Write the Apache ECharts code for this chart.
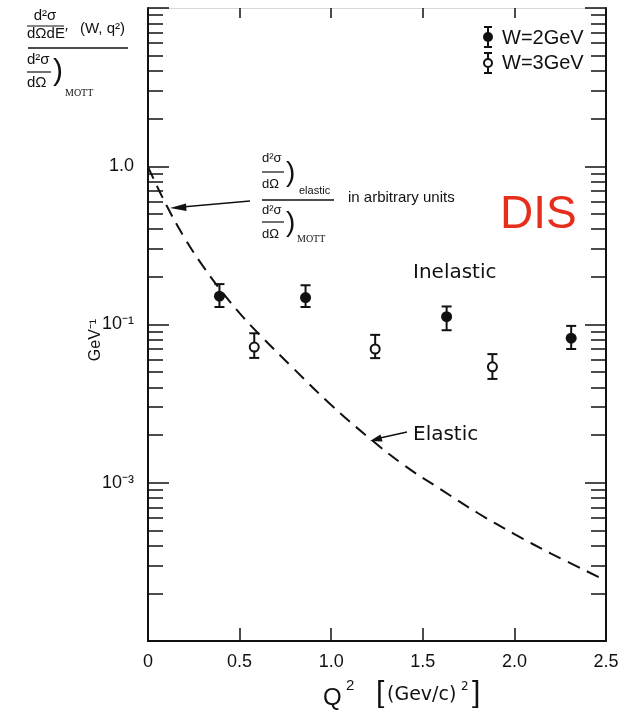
<!DOCTYPE html>
<html><head><meta charset="utf-8">
<script src="https://cdn.jsdelivr.net/npm/echarts@6/dist/echarts.min.js"></script>
<style>html,body{margin:0;padding:0;background:#fff}#c{width:637px;height:717px}</style>
</head><body><div id="c"></div>
<script>
// ---- data ----
const xTicks = [0, 0.5, 1.0, 1.5, 2.0, 2.5];
const yTickLabels = {"0": "1.0", "-1": "10\u207B\u00B9", "-2": "10\u207B\u00B3"};
// W = 2 GeV (filled)
const w2Q2 = [0.39, 0.86, 1.63, 2.31];
const w2Val = [0.151, 0.148, 0.112, 0.082];
const w2Lo = [0.129, 0.129, 0.092, 0.070];
const w2Hi = [0.180, 0.177, 0.130, 0.098];
// W = 3 GeV (open)
const w3Q2 = [0.58, 1.24, 1.88];
const w3Val = [0.072, 0.070, 0.054];
const w3Lo = [0.0615, 0.0613, 0.0453];
const w3Hi = [0.088, 0.086, 0.065];
// elastic curve (arbitrary units)
const elQ2 = [0, 0.1, 0.2, 0.3, 0.4, 0.5, 0.6, 0.8, 1.0, 1.2, 1.4, 1.6, 1.8, 2.0, 2.2, 2.5];
const elVal = [0.989, 0.569, 0.352, 0.234, 0.163, 0.118, 0.0884, 0.0519, 0.0310, 0.0195, 0.01285, 0.00905, 0.00644, 0.00474, 0.00357, 0.00241];

const minorVals = [];
for (let d = -3; d <= 0; d++) for (let k = 2; k <= 9; k++) minorVals.push(+(k * Math.pow(10, d)).toPrecision(3));

const FONT = 'Liberation Sans';
const FONT2 = 'DejaVu Sans';
const INK = '#111';

const chart = echarts.init(document.getElementById('c'), null, {renderer: 'canvas'});

function errRender(lo, hi, xs) {
  return function (params, api) {
    const i = params.dataIndex;
    const a = api.coord([xs[i], lo[i]]);
    const b = api.coord([xs[i], hi[i]]);
    const w = 5;
    const st = {stroke: INK, lineWidth: 2};
    return {type: 'group', children: [
      {type: 'line', shape: {x1: a[0], y1: a[1], x2: b[0], y2: b[1]}, style: st},
      {type: 'line', shape: {x1: a[0] - w, y1: a[1], x2: a[0] + w, y2: a[1]}, style: st},
      {type: 'line', shape: {x1: b[0] - w, y1: b[1], x2: b[0] + w, y2: b[1]}, style: st}
    ]};
  };
}

const yBase = {type: 'log', logBase: 10, min: 0.001, max: 10, splitLine: {show: false}};

function txt(x, y, s, size, extra) {
  return {type: 'text', x: x, y: y, style: Object.assign({text: s, fontFamily: FONT, fontSize: size, fill: INK, textVerticalAlign: 'middle'}, extra || {})};
}
function ln(x1, y1, x2, y2, w) {
  return {type: 'line', shape: {x1: x1, y1: y1, x2: x2, y2: y2}, style: {stroke: INK, lineWidth: w || 1.3}};
}

const graphics = [
  // top-left y-axis title fraction
  txt(45, 16, 'd\u00B2\u03C3', 15, {align: 'center'}),
  ln(27, 26, 64, 26, 1.2),
  txt(27, 34, 'd\u03A9dE\u2032', 15),
  txt(80, 29, '(W, q\u00B2)', 15),
  ln(28, 48, 128, 48, 1.5),
  txt(27, 60, 'd\u00B2\u03C3', 15),
  ln(27, 72, 51, 72, 1.2),
  txt(27, 83, 'd\u03A9', 15),
  txt(53, 72, ')', 30, {fontWeight: 'lighter'}),
  txt(65, 93, 'MOTT', 10, {fontFamily: 'Liberation Serif'}),
  // GeV^-1
  {type: 'text', x: 96, y: 340, rotation: Math.PI / 2, style: {text: 'GeV\u207B\u00B9', fontFamily: FONT, fontSize: 16, fill: INK, align: 'center', verticalAlign: 'middle'}},
  // x axis title
  txt(323, 698, 'Q', 24),
  txt(346, 686, '2', 15),
  txt(376, 694, '[', 30, {fontWeight: 'lighter'}),
  txt(387, 695, '(Gev/c)', 19, {fontFamily: FONT2}),
  txt(461, 687, '2', 12, {fontFamily: FONT2}),
  txt(472, 694, ']', 30, {fontWeight: 'lighter'}),
  // middle annotation
  txt(262, 158, 'd\u00B2\u03C3', 13),
  ln(262, 172, 284, 172, 1.2),
  txt(262, 184, 'd\u03A9', 13),
  txt(286, 173, ')', 28, {fontWeight: 'lighter'}),
  txt(299, 191, 'elastic', 11),
  ln(262, 200, 334, 200, 1.3),
  txt(262, 210, 'd\u00B2\u03C3', 13),
  ln(262, 222, 284, 222, 1.2),
  txt(262, 234, 'd\u03A9', 13),
  txt(286, 223, ')', 28, {fontWeight: 'lighter'}),
  txt(297, 239, 'MOTT', 10, {fontFamily: 'Liberation Serif'}),
  txt(348, 198, 'in arbitrary units', 15),
  ln(250, 201, 182, 207, 1.3),
  {type: 'polygon', shape: {points: [[170, 208], [186, 203.5], [186.5, 211]]}, style: {fill: INK}},
  // Inelastic / Elastic
  txt(413, 273, 'Inelastic', 20, {fontFamily: FONT2}),
  txt(413, 435, 'Elastic', 20, {fontFamily: FONT2}),
  ln(407, 432, 380, 438, 1.5),
  {type: 'polygon', shape: {points: [[370, 441], [382.5, 441.6], [380.5, 434.6]]}, style: {fill: INK}},
  // DIS
  {type: 'text', x: 500, y: 215, style: {text: 'DIS', fontFamily: FONT, fontSize: 46, fill: '#e62e1c', verticalAlign: 'middle'}},
  // legend
  ln(488, 27, 488, 47, 2), ln(484, 27, 492, 27, 2), ln(484, 47, 492, 47, 2),
  {type: 'circle', shape: {cx: 488, cy: 37, r: 5}, style: {fill: INK}},
  txt(502, 38, 'W=2GeV', 20),
  ln(488, 53, 488, 73, 2), ln(484, 53, 492, 53, 2), ln(484, 73, 492, 73, 2),
  {type: 'circle', shape: {cx: 488, cy: 63, r: 4}, style: {fill: '#fff', stroke: INK, lineWidth: 2}},
  txt(502, 63, 'W=3GeV', 20)
];

chart.setOption({
  animation: false,
  backgroundColor: '#fff',
  grid: {left: 148, right: 31, top: 8, bottom: 76},
  xAxis: [
    {type: 'value', min: 0, max: 2.5, interval: 0.5, position: 'bottom',
     axisLine: {lineStyle: {color: INK, width: 2}},
     axisTick: {inside: true, length: 13, lineStyle: {color: INK, width: 1.5}},
     axisLabel: {margin: 12, fontFamily: FONT, fontSize: 18, color: INK,
       formatter: v => v === 0 ? '0' : v.toFixed(1)},
     splitLine: {show: false}},
    {type: 'value', min: 0, max: 2.5, interval: 0.5, position: 'top',
     axisLine: {lineStyle: {color: '#d8d8d8', width: 1}},
     axisTick: {inside: true, length: 10, lineStyle: {color: INK, width: 1.5}},
     axisLabel: {show: false}, splitLine: {show: false}}
  ],
  yAxis: [
    Object.assign({}, yBase, {position: 'left',
      axisLine: {show: true, lineStyle: {color: INK, width: 2}},
      axisTick: {show: true, inside: true, length: 21, lineStyle: {color: INK, width: 1.5}},
      axisLabel: {margin: 14, fontFamily: FONT, fontSize: 18, color: INK,
        formatter: v => { const k = String(Math.round(Math.log10(v))); return yTickLabels[k] || ''; }}}),
    Object.assign({}, yBase, {position: 'left',
      axisLine: {show: false},
      axisTick: {show: true, inside: true, length: 15, customValues: minorVals, lineStyle: {color: INK, width: 1.5}},
      axisLabel: {show: false}}),
    Object.assign({}, yBase, {position: 'right',
      axisLine: {show: true, lineStyle: {color: INK, width: 2}},
      axisTick: {show: true, inside: true, length: 21, lineStyle: {color: INK, width: 1.5}},
      axisLabel: {show: false}}),
    Object.assign({}, yBase, {position: 'right',
      axisLine: {show: false},
      axisTick: {show: true, inside: true, length: 15, customValues: minorVals, lineStyle: {color: INK, width: 1.5}},
      axisLabel: {show: false}})
  ],
  series: [
    {type: 'line', name: 'Elastic', data: elQ2.map((q, i) => [q, elVal[i]]), smooth: 0.4, showSymbol: false,
     lineStyle: {color: INK, width: 2, type: [13, 8]}, z: 2},
    {type: 'custom', name: 'W2err', data: w2Q2.map((q, i) => [q, w2Val[i]]), renderItem: errRender(w2Lo, w2Hi, w2Q2), z: 3},
    {type: 'custom', name: 'W3err', data: w3Q2.map((q, i) => [q, w3Val[i]]), renderItem: errRender(w3Lo, w3Hi, w3Q2), z: 3},
    {type: 'scatter', name: 'W = 2 GeV', data: w2Q2.map((q, i) => [q, w2Val[i]]), symbol: 'circle', symbolSize: 11,
     itemStyle: {color: INK, opacity: 1}, z: 4},
    {type: 'scatter', name: 'W = 3 GeV', data: w3Q2.map((q, i) => [q, w3Val[i]]), symbol: 'circle', symbolSize: 9,
     itemStyle: {color: '#fff', borderColor: INK, borderWidth: 2, opacity: 1}, z: 4}
  ],
  graphic: graphics
});
</script></body></html>
